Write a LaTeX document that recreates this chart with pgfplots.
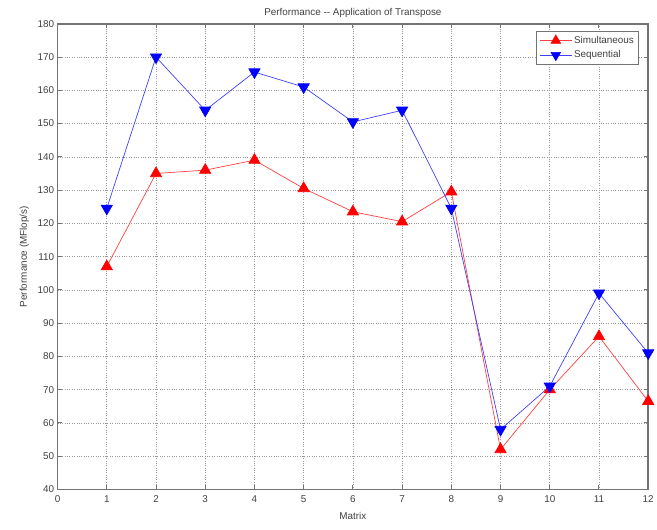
\documentclass[border=0pt]{standalone}
\usepackage{fontspec}
\setmainfont{Liberation Sans}
\usepackage{pgfplots}
\pgfplotsset{compat=1.18}
\definecolor{frame}{gray}{0.45}
\definecolor{gridc}{gray}{0.6}
\begin{document}
\begin{tikzpicture}[x=1bp,y=1bp]
\begin{axis}[
  scale only axis,
  width=595bp, height=469bp,
  xmin=0, xmax=12, ymin=40, ymax=180,
  xtick={0,1,...,12}, ytick={40,50,...,180},
  grid=major,
  major grid style={gridc, dotted, line width=0.6bp},
  axis line style={frame, line width=1.5bp},
  tick style={frame, line width=1bp},
  tick align=inside,
  major tick length=4bp,
  xtick pos=both, ytick pos=both,
  /pgf/number format/assume math mode=true,
  ticklabel style={font=\fontsize{10}{12}\selectfont, text=black!75},
  xticklabel style={yshift=-3bp},
  title={Performance -{}- Application of Transpose},
  title style={font=\fontsize{10}{12}\selectfont, text=black!75, yshift=-3bp},
  xlabel={Matrix},
  ylabel={Performance (MFlop/s)},
  label style={font=\fontsize{10}{12}\selectfont, text=black!75},
  xlabel style={yshift=-3bp},
  ylabel style={yshift=2bp},
  legend style={at={(0.985,0.985)}, anchor=north east, draw=frame, line width=0.9bp,
    font=\fontsize{10}{12}\selectfont, text=black!75, inner xsep=3bp, inner ysep=3bp, row sep=2bp,
    legend cell align=left, /tikz/every even column/.append style={column sep=4bp}},
  legend image code/.code={
    \draw[#1] (0bp,0bp) -- (32bp,0bp);
    \draw[#1, draw=none, mark size=5.5bp] plot coordinates {(16bp,0bp)};},
]
\addplot[color=red!75, line width=0.7bp, mark=triangle*, mark size=6.5bp,
  mark options={solid, fill=red, draw=red}] coordinates {
 (1,107) (2,135) (3,136) (4,139) (5,130.5) (6,123.5) (7,120.5) (8,129.5)
 (9,52) (10,70) (11,86) (12,66.5)};
\addlegendentry{Simultaneous}
\addplot[color=blue!75, line width=0.7bp, mark=triangle*, mark size=6.5bp,
  mark options={solid, fill=blue, draw=blue, rotate=180}] coordinates {
 (1,124.5) (2,170) (3,154) (4,165.5) (5,161) (6,150.5) (7,154) (8,124.5)
 (9,58) (10,71) (11,99) (12,81)};
\addlegendentry{Sequential}
\end{axis}
\path ([xshift=-58bp,yshift=-40bp]current axis.south west) rectangle ([xshift=4bp,yshift=24bp]current axis.north east);
\end{tikzpicture}
\end{document}
